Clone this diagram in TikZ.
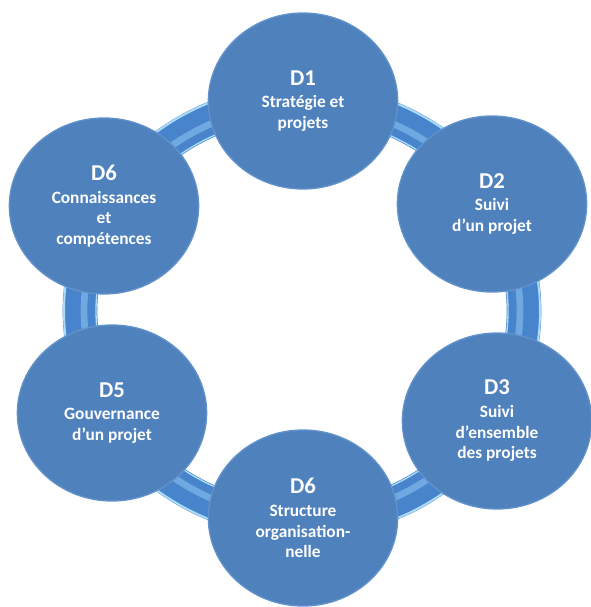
\documentclass[tikz,border=0pt]{standalone}
\usepackage{fontspec}
\setmainfont{Carlito}
\usetikzlibrary{shapes.geometric}
\definecolor{domblue}{RGB}{79,129,189}
\definecolor{domrim}{RGB}{98,146,203}
\definecolor{ringdark}{RGB}{72,132,204}
\definecolor{ringmid}{RGB}{112,168,226}
\definecolor{ringlight}{RGB}{170,220,248}
\newcommand{\dnum}[1]{{\fontsize{17}{19}\selectfont #1}}

\begin{document}
\begin{tikzpicture}[x=0.75pt, y=0.75pt, every node/.style={ellipse, fill=domblue, draw=domrim, line width=1pt, minimum width=142pt, minimum height=132pt, inner sep=0pt, align=center, text=white, font=\bfseries\fontsize{13}{15.5}\selectfont}]
	\useasboundingbox (0,0) rectangle (590,607);
	% ring: tube with a light stripe and a light edge
	\foreach \w/\c/\r/\s in {26pt/ringdark/222/210, 5pt/ringmid/218/206, 1.5pt/ringlight/238/226, 1pt/ringlight/206/194}
	\draw[\c, line width=\w] (302,296) ellipse [x radius=\r, y radius=\s];
	\node (d1)  at (303,506) {\dnum{D1}\\[1.5pt] Stratégie et\\ projets};
	\node (d2)  at (492,403) {\dnum{D2}\\[1.5pt] Suivi\\ d’un projet};
	\node (d3)  at (497,186) {\dnum{D3}\\[1.5pt] Suivi\\ d’ensemble\\ des projets};
	\node (d6s) at (303,89)  {\dnum{D6}\\[1.5pt] Structure\\ organisation-\\ nelle};
	\node (d5)  at (112,194) {\dnum{D5}\\[1.5pt] Gouvernance\\ d’un projet};
	\node (d6c) at (104,401) {\dnum{D6}\\[1.5pt] Connaissances\\ et\\ compétences};
\end{tikzpicture}
\end{document}
